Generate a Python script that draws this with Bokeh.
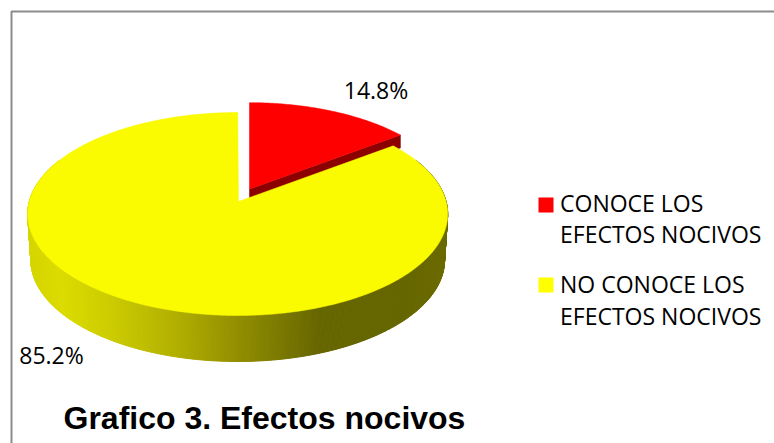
import numpy as np
from bokeh.embed import file_html
from bokeh.models import Range1d
from bokeh.plotting import figure
from bokeh.resources import INLINE
from bokeh.core.properties import value

TITLE = "Grafico 3. Efectos nocivos"
CATEGORIES = ["CONOCE LOS\nEFECTOS NOCIVOS", "NO CONOCE LOS\nEFECTOS NOCIVOS"]
VALUES = [14.8, 85.2]
LABELS = ["14.8%", "85.2%"]
COLORS = ["#ff0000", "#fafa00"]
DARK_RED = "#8c0000"
# wall shading stops: (x pixel, colour)
WALL_X = [26, 60, 110, 170, 230, 290, 320, 400, 447]
WALL_C = ["#d6d600", "#dcdc00", "#cccc00", "#b4b200", "#969200", "#767400", "#666600", "#666600", "#6c6c00"]

W, H = 774, 443
p = figure(width=W, height=H, output_backend="svg", toolbar_location=None,
           x_range=Range1d(0, W), y_range=Range1d(H, 0),
           min_border=0, outline_line_color=None)
p.axis.visible = False
p.grid.visible = False
p.background_fill_color = "white"

A, B, K = 208.4, 99.96, 0.1232  # perspective pie


def rim(theta, ax, ay, scale=1.0):
    X, Y = np.sin(theta), np.cos(theta)
    d = 1 + K * Y
    return ax + scale * A * X / d, ay - scale * B * Y / d


def hex2rgb(c):
    return np.array([int(c[i:i + 2], 16) for i in (1, 3, 5)])


# frame
p.line([W + 2, 11, 11], [11, 11, H + 2], line_color="#8c8c8c", line_width=2)

shares = np.array(VALUES) / sum(VALUES)
split = 2 * np.pi * shares[0]
YA = (237.2, 201)
RA = (249, 188.5)
DEPTH = 46

# yellow wall strips
ts = np.linspace(np.pi / 2 - 0.45, 3 * np.pi / 2 + 0.45, 500)
xt, yt = rim(ts, *YA)
wx = np.array(WALL_X, float)
rgb = np.array([hex2rgb(c) for c in WALL_C], float)
s = 0.985
xs, ys, cs = [], [], []
for i in range(len(ts) - 1):
    x0, x1 = xt[i], xt[i + 1]
    y0, y1 = yt[i], yt[i + 1]
    bx0 = YA[0] + (x0 - YA[0]) * s
    bx1 = YA[0] + (x1 - YA[0]) * s
    xs.append([x0, x1, bx1, bx0])
    ys.append([y0, y1, y1 + DEPTH, y0 + DEPTH])
    m = (x0 + x1) / 2
    col = [int(np.interp(m, wx, rgb[:, j])) for j in range(3)]
    cs.append("#%02x%02x%02x" % tuple(col))
p.patches(xs, ys, fill_color=cs, line_color=cs, line_width=1)

# red wedge cut-side, then top face
tr = np.linspace(0, split, 80)
rx, ry = rim(tr, *RA, scale=0.97)
p.patch([RA[0], RA[0], rx[-1], rx[-1]], [RA[1], RA[1] + 9, ry[-1] + 13, ry[-1]],
        fill_color=DARK_RED, line_color=DARK_RED, line_width=0.5)
p.patch(np.r_[RA[0], rx], np.r_[RA[1], ry], fill_color=COLORS[0], line_color=COLORS[0], line_width=0.5)

# yellow top face
ty = np.linspace(split, 2 * np.pi, 400)
yx, yy = rim(ty, *YA)
p.patch(np.r_[YA[0] + 0.8, yx], np.r_[YA[1], yy], fill_color=COLORS[1], line_color=COLORS[1], line_width=0.5)

# data labels
p.text([375.5, 51], [89, 354.5], text=LABELS, text_font=value("Open Sans"), text_font_size="23px",
       text_color="#000000", text_align="center", text_baseline="middle")

# legend
for sy, c in zip([204.5, 284.5], ["#ff0000", "#ffff00"]):
    p.quad(left=538, right=553, top=sy - 7.5, bottom=sy + 7.5, fill_color=c, line_color=None)
ly = [[202, 233], [283, 315.5]]
for cat, (y1, y2) in zip(CATEGORIES, ly):
    a, b = cat.split("\n")
    p.text([559.5, 559.5], [y1, y2], text=[a, b], text_font=value("Open Sans"), text_font_size="23px",
           text_color="#000000", text_align="left", text_baseline="middle")

p.text([63], [417], text=[TITLE], text_font=value("Liberation Sans"), text_font_size="32px",
       text_font_style="bold", text_color="#000000", text_align="left", text_baseline="middle")

open("out.html", "w").write(file_html(p, INLINE))
